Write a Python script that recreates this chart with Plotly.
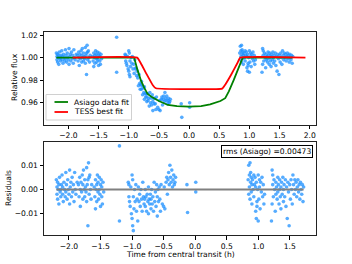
import plotly.graph_objects as go

# ---------------- data ----------------
tA = [-2.20,-2.19,-2.19,-2.18,-2.18,-2.17,-2.16,-2.16,-2.15,-2.14,
      -2.13,-2.13,-2.12,-2.11,-2.10,-2.10,-2.09,-2.08,-2.07,-2.06,
      -2.05,-2.05,-2.04,-2.03,-2.02,-2.01,-2.00,-1.99,-1.99,-1.98,
      -1.97,-1.96,-1.95,-1.94,-1.93,-1.92,-1.91,-1.90,-1.89,-1.87]
rA = [0.004,-0.002,0.001,0.003,-0.004,0.000,-0.006,0.002,0.005,-0.001,
      0.000,-0.003,0.002,0.006,-0.002,0.001,-0.005,0.003,0.000,-0.003,
      0.007,-0.001,0.002,-0.004,0.004,0.000,-0.002,0.008,-0.006,0.001,
      0.003,-0.003,0.005,-0.001,0.002,-0.005,0.007,0.000,-0.002,0.003]
fA = [1.004,0.998,1.001,1.003,0.996,1.000,0.994,1.002,1.005,0.999,
      1.000,0.997,1.002,1.006,0.998,1.001,0.995,1.003,1.000,0.997,
      1.007,0.999,1.002,0.996,1.004,1.000,0.998,1.008,0.994,1.001,
      1.003,0.997,1.005,0.999,1.002,0.995,1.007,1.000,0.998,1.003]

tB = [-1.85,-1.84,-1.83,-1.82,-1.82,-1.81,-1.80,-1.79,-1.78,-1.78,
      -1.77,-1.76,-1.75,-1.75,-1.74,-1.73,-1.72,-1.72,-1.71,-1.70,
      -1.70,-1.69,-1.68,-1.68,-1.67,-1.66,-1.65,-1.64]
rB = [0.002,-0.003,0.005,0.000,-0.007,0.003,-0.001,0.006,0.002,-0.004,
      0.008,0.000,-0.003,0.004,0.001,-0.001,0.009,-0.005,0.002,-0.015,
      0.004,0.011,0.005,-0.002,0.006,0.000,-0.004,0.002]
fB = [1.002,0.997,1.005,1.000,0.993,1.003,0.999,1.006,1.002,0.996,
      1.008,1.000,0.997,1.004,1.001,0.999,1.009,0.995,1.002,0.985,
      1.004,1.011,1.005,0.998,1.006,1.000,0.996,1.002]

tC = [-1.60,-1.59,-1.58,-1.58,-1.57,-1.56,-1.56,-1.55,-1.54,-1.54,
      -1.53,-1.52,-1.52,-1.51,-1.50,-1.50,-1.49,-1.48,-1.48,-1.47,
      -1.46,-1.45]
rC = [0.001,-0.003,0.004,-0.008,0.000,0.002,-0.005,0.006,-0.001,0.003,
      -0.004,0.000,0.005,-0.002,0.002,-0.007,0.004,-0.003,0.001,-0.006,
      0.003,-0.001]
fC = [1.001,0.997,1.004,0.992,1.000,1.002,0.995,1.006,0.999,1.003,
      0.996,1.000,1.005,0.998,1.002,0.993,1.004,0.997,1.001,0.994,
      1.003,0.999]

tD = [-1.20,-1.20,-1.06,-1.05,-1.05,-1.04,-1.03,-1.02,-1.01,-1.00,
      -1.00,-0.99,-0.99,-0.98,-0.98,-0.97,-0.96,-0.95,-0.94,-0.93,
      -0.92,-0.91,-0.90,-0.89,-0.88,-0.87,-0.86,-0.85,-0.84,-0.83,
      -0.82,-0.81]
rD = [0.018,-0.013,0.003,-0.003,0.002,-0.005,-0.007,0.001,-0.010,0.006,
      -0.012,0.004,-0.015,-0.017,-0.003,-0.008,0.000,-0.005,0.002,-0.009,
      -0.004,-0.013,0.001,-0.005,-0.002,-0.007,0.000,-0.004,-0.009,0.003,
      -0.003,-0.006]
fD = [1.018,0.987,1.003,0.997,1.002,0.995,0.993,1.001,0.990,1.006,
      0.988,1.004,0.985,0.983,0.997,0.992,1.000,0.995,1.001,0.990,
      0.994,0.986,0.998,0.990,0.991,0.984,0.988,0.982,0.975,0.985,
      0.977,0.972]

tE = [-0.80,-0.79,-0.79,-0.78,-0.77,-0.76,-0.75,-0.74,-0.74,-0.73,
      -0.72,-0.71,-0.70,-0.70,-0.69,-0.68,-0.67,-0.66,-0.65,-0.64,
      -0.63,-0.62,-0.61,-0.60,-0.60,-0.59,-0.58,-0.57,-0.56,-0.55,
      -0.54,-0.52,-0.50,-0.49,-0.48,-0.46,-0.45,-0.44,-0.43,-0.42,
      -0.41,-0.40,-0.39,-0.38,-0.37,-0.36,-0.35,-0.34,-0.33,-0.32,
      -0.31,-0.13,-0.12,0.01,0.01]
rE = [-0.004,-0.007,0.000,-0.003,-0.009,-0.002,-0.005,-0.010,0.001,-0.004,
      -0.006,-0.002,-0.008,-0.004,0.000,-0.006,-0.003,-0.009,0.003,-0.005,
      -0.001,-0.007,0.002,-0.011,-0.003,0.000,-0.005,0.001,-0.004,-0.009,
      0.002,-0.006,-0.007,0.001,-0.008,0.003,0.005,-0.002,0.004,0.007,
      0.002,0.010,0.005,0.003,0.008,0.001,0.004,0.006,0.002,0.003,
      0.005,0.002,-0.0095,0.003,-0.001]
fE = [0.976,0.972,0.979,0.975,0.967,0.973,0.969,0.963,0.974,0.968,
      0.965,0.968,0.961,0.965,0.968,0.962,0.964,0.957,0.969,0.960,
      0.964,0.958,0.967,0.953,0.961,0.964,0.959,0.964,0.959,0.954,
      0.965,0.956,0.954,0.962,0.953,0.963,0.965,0.958,0.963,0.966,
      0.961,0.969,0.964,0.962,0.966,0.959,0.962,0.964,0.960,0.961,
      0.963,0.959,0.947,0.960,0.956]

tF = [0.84,0.85,0.85,0.86,0.86,0.87,0.87,0.88,0.88,0.89,
      0.89,0.90,0.90,0.91,0.92,0.93,0.93,0.94,0.95,0.96,
      0.96,0.97,0.97,0.98,0.98,0.99,1.00,1.00,1.01,1.02,
      1.02,1.03,1.04,1.05,1.06,1.07,1.08,1.09,1.10]
rF = [0.004,0.010,-0.002,0.006,0.001,0.011,-0.004,0.003,0.007,-0.001,
      0.005,0.002,-0.006,0.004,0.000,0.006,-0.003,0.002,0.005,-0.009,
      0.001,-0.012,0.003,-0.005,-0.007,0.000,-0.013,0.006,-0.004,0.004,
      0.001,-0.008,0.003,-0.001,0.005,-0.003,0.002,-0.006,-0.002]
fF = [1.004,1.010,0.998,1.006,1.001,1.011,0.996,1.003,1.007,0.999,
      1.005,1.002,0.994,1.004,1.000,1.006,0.997,1.002,1.005,0.991,
      1.001,0.988,1.003,0.995,0.993,1.000,0.987,1.006,0.996,1.004,
      1.001,0.992,1.003,0.999,1.005,0.997,1.002,0.994,0.998]

tG = [1.21,1.22,1.22,1.23,1.23,1.24,1.25,1.26,1.27,1.28,
      1.28,1.29,1.30,1.31,1.31,1.32,1.33,1.34,1.34,1.35,
      1.36,1.36,1.37,1.38,1.39,1.40,1.40,1.41,1.42,1.43,
      1.44,1.45,1.46,1.47,1.48,1.49,1.50,1.51,1.52,1.53,
      1.54,1.55,1.56,1.57,1.58,1.59,1.60,1.61,1.62,1.63,
      1.64,1.65,1.66,1.67,1.68,1.69,1.70,1.71,1.72]
rG = [-0.013,0.008,-0.006,0.006,0.002,-0.003,0.004,0.000,-0.009,0.003,
      -0.002,0.001,-0.004,0.005,-0.001,0.002,-0.006,0.000,0.004,-0.003,
      0.001,-0.008,0.003,-0.002,0.005,-0.005,0.000,0.002,-0.003,0.004,
      -0.007,0.001,-0.012,0.003,-0.001,-0.015,0.002,-0.004,0.004,0.000,
      -0.006,0.006,0.002,-0.002,0.004,0.000,0.003,-0.003,0.001,0.004,
      -0.001,0.002,-0.004,0.003,0.000,-0.002,0.002,-0.005,0.001]
fG = [0.987,1.008,0.994,1.006,1.002,0.997,1.004,1.000,0.991,1.003,
      0.998,1.001,0.996,1.005,0.999,1.002,0.994,1.000,1.004,0.997,
      1.001,0.992,1.003,0.998,1.005,0.995,1.000,1.002,0.997,1.004,
      0.993,1.001,0.988,1.003,0.999,0.985,1.002,0.996,1.004,1.000,
      0.994,1.006,1.002,0.998,1.004,1.000,1.003,0.997,1.001,1.004,
      0.999,1.002,0.996,1.003,1.000,0.998,1.002,0.995,1.001]

time = tA + tB + tC + tD + tE + tF + tG
flux = fA + fB + fC + fD + fE + fF + fG
resid = rA + rB + rC + rD + rE + rF + rG

asiago_t = [-2.20,-0.91,-0.86,-0.80,-0.74,-0.69,-0.63,-0.58,-0.50,-0.35,-0.20,0.00,
            0.20,0.35,0.52,0.60,0.66,0.74,0.81,0.89,1.72]
asiago_f = [1.000,1.000,0.990,0.980,0.973,0.968,0.9655,0.964,0.9615,0.958,0.957,0.9565,
            0.957,0.9585,0.9615,0.964,0.970,0.980,0.989,1.000,1.000]

tess_t = [-1.93,-0.86,-0.80,-0.70,-0.60,-0.55,0.00,0.55,0.60,0.70,0.80,0.85,1.93]
tess_f = [1.000,1.000,0.995,0.985,0.9755,0.9728,0.9720,0.9725,0.976,0.985,0.995,1.000,1.000]

zero_t = [-2.20, 1.72]
zero_r = [0.0, 0.0]

xticks = [-2.0, -1.5, -1.0, -0.5, 0.0, 0.5, 1.0, 1.5, 2.0]
yticks_top = [0.96, 0.98, 1.00, 1.02]
yticks_bot = [-0.01, 0.00, 0.01]
legend_labels = ["Asiago data fit", "TESS best fit"]
legend_colors = ["green", "red"]
rms_label = "rms (Asiago) =0.00473"

# ---------------- figure ----------------
FONT = "DejaVu Sans"
FS = 7.6
blue = "rgba(30,144,255,0.75)"

fig = go.Figure()
fig.add_trace(go.Scatter(x=time, y=flux, mode="markers", showlegend=False,
                         marker=dict(size=3.6, color=blue, line=dict(width=0)),
                         xaxis="x", yaxis="y"))
fig.add_trace(go.Scatter(x=asiago_t, y=asiago_f, mode="lines", name=legend_labels[0],
                         showlegend=False,
                         line=dict(color=legend_colors[0], width=1.8), xaxis="x", yaxis="y"))
fig.add_trace(go.Scatter(x=tess_t, y=tess_f, mode="lines", name=legend_labels[1],
                         showlegend=False,
                         line=dict(color=legend_colors[1], width=1.8, shape="spline", smoothing=0.3),
                         xaxis="x", yaxis="y"))
fig.add_trace(go.Scatter(x=time, y=resid, mode="markers", showlegend=False,
                         marker=dict(size=3.6, color=blue, line=dict(width=0)),
                         xaxis="x2", yaxis="y2"))
fig.add_trace(go.Scatter(x=zero_t, y=zero_r, mode="lines", showlegend=False,
                         line=dict(color="gray", width=2), xaxis="x2", yaxis="y2"))

axis_common = dict(showgrid=False, zeroline=False, ticks="outside", ticklen=3.5,
                   tickwidth=1, tickcolor="black", showline=True, linecolor="#222",
                   linewidth=1, mirror=True,
                   tickfont=dict(family=FONT, size=FS, color="black"))

# hand-drawn legend (matplotlib-style compact box)
PL, PT, PW, PH = 44, 32, 272, 203   # plot area in pixels
def px(xp): return (xp - PL) / PW
def py(yp): return (PT + PH - yp) / PH

shapes = [dict(type="rect", xref="paper", yref="paper", x0=px(46), x1=px(131.5),
               y0=py(120), y1=py(94.5), line=dict(color="#d0d0d0", width=1),
               fillcolor="rgba(255,255,255,0.85)", layer="above")]
annotations = []
for i, (lab, col) in enumerate(zip(legend_labels, legend_colors)):
    yy = 102 + i * 10
    shapes.append(dict(type="line", xref="paper", yref="paper", x0=px(54.5), x1=px(68),
                       y0=py(yy), y1=py(yy), line=dict(color=col, width=1.8), layer="above"))
    annotations.append(dict(text=lab, xref="paper", yref="paper", x=px(72), y=py(yy),
                            xanchor="left", yanchor="middle", showarrow=False,
                            font=dict(family=FONT, size=FS, color="black")))

annotations += [
    dict(text=rms_label, xref="paper", yref="paper", x=px(313), y=py(145),
         xanchor="right", yanchor="top", showarrow=False,
         font=dict(family=FONT, size=FS, color="black"),
         bgcolor="white", bordercolor="black", borderwidth=1, borderpad=1),
    dict(text="Relative flux", xref="paper", yref="paper", x=px(14.5), y=py(77.5),
         xanchor="center", yanchor="middle", textangle=-90, showarrow=False,
         font=dict(family=FONT, size=FS)),
    dict(text="Residuals", xref="paper", yref="paper", x=px(8.5), y=py(188.5),
         xanchor="center", yanchor="middle", textangle=-90, showarrow=False,
         font=dict(family=FONT, size=FS)),
    dict(text="Time from central transit (h)", xref="paper", yref="paper",
         x=0.5, y=py(254), xanchor="center", yanchor="middle", showarrow=False,
         font=dict(family=FONT, size=FS)),
]

fig.update_layout(
    width=352, height=264,
    margin=dict(l=PL, r=352 - PL - PW, t=PT, b=264 - PT - PH),
    paper_bgcolor="white", plot_bgcolor="white",
    font=dict(family=FONT, size=FS, color="black"),
    xaxis=dict(domain=[0, 1], anchor="y", range=[-2.405, 2.105],
               tickvals=xticks, tickformat=".1f", **axis_common),
    yaxis=dict(domain=[py(124.7), 1], anchor="x", range=[0.9405, 1.0227],
               tickvals=yticks_top, tickformat=".2f", **axis_common),
    xaxis2=dict(domain=[0, 1], anchor="y2", range=[-2.396, 1.916],
                tickvals=xticks, tickformat=".1f", **axis_common),
    yaxis2=dict(domain=[0, py(142)], anchor="x2", range=[-0.0188, 0.0196],
                tickvals=yticks_bot, tickformat=".2f", **axis_common),
    showlegend=False,
    shapes=shapes,
    annotations=annotations,
)

fig.write_html("out.html", config={"displayModeBar": False},
               post_script="document.body.style.margin='0';")
